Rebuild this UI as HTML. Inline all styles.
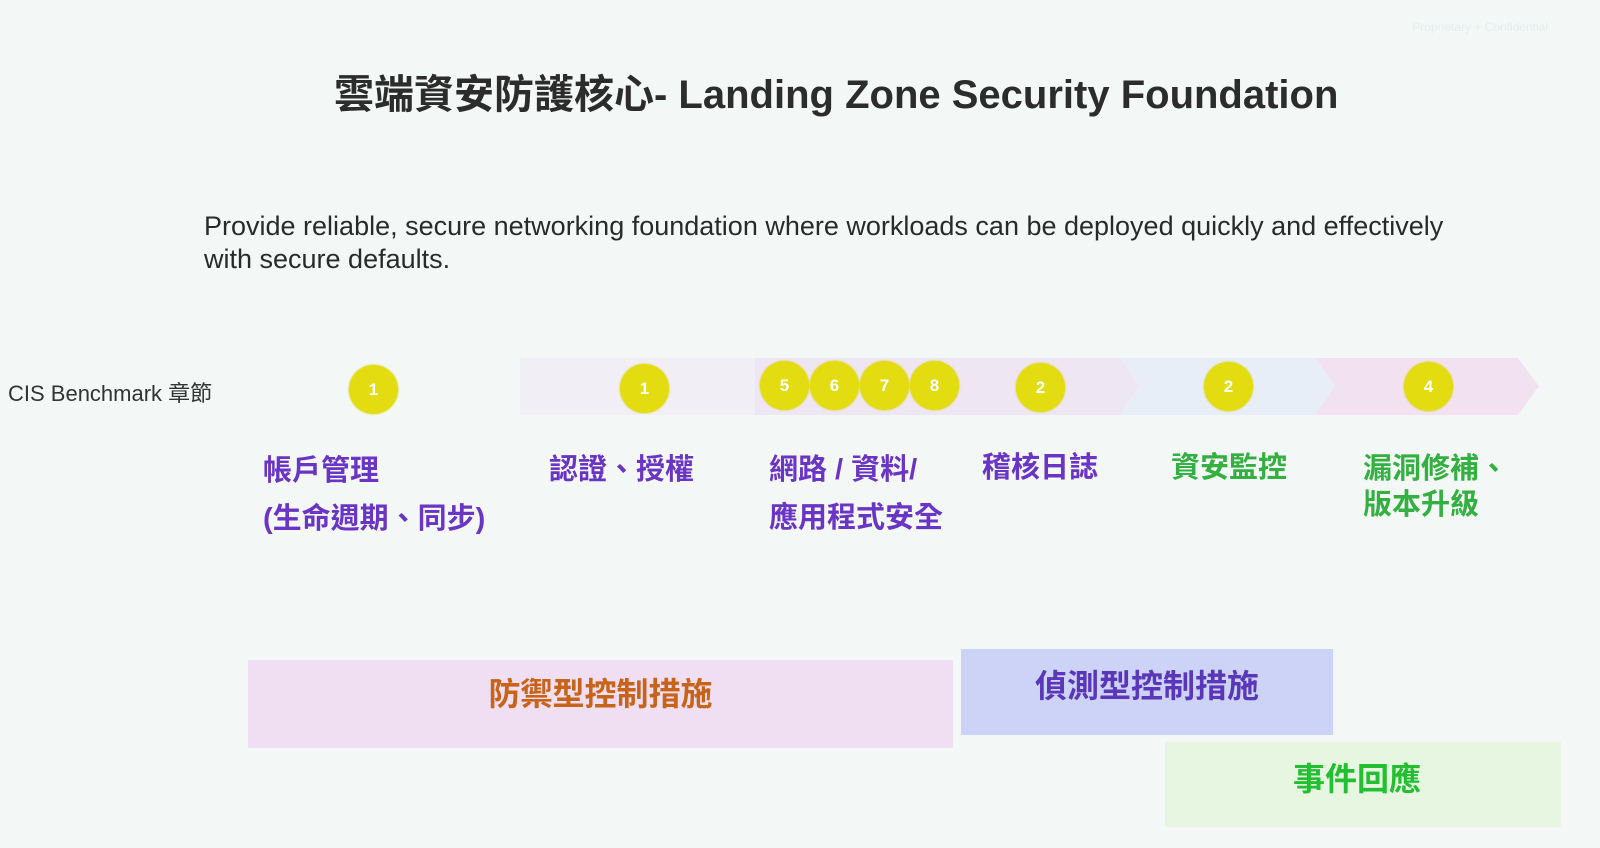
<!DOCTYPE html>
<html><head><meta charset="utf-8"><style>
body{margin:0;width:1600px;height:848px;overflow:hidden;background:#f3f8f7;position:relative;font-family:"Liberation Sans","Noto Sans CJK TC",sans-serif}
.a{position:absolute;white-space:nowrap}
.c{position:absolute;width:49px;height:49px;border-radius:50%;background:#e2dc10;color:#fff;font-size:17px;font-weight:bold;display:flex;align-items:center;justify-content:center;box-shadow:0 0 2px #d8d000}
.l{position:absolute;font-size:29px;font-weight:bold;line-height:48px;white-space:nowrap}
.p{color:#6a34c4}.g{color:#33b040}
.b{position:absolute;display:flex;align-items:center;justify-content:center;font-size:32px;font-weight:bold;box-sizing:border-box}
</style></head><body>
<div class="a" style="right:52px;top:20px;font-size:12px;color:#e4ecec">Proprietary + Confidential</div>
<div class="a" style="left:334px;top:62px;font-size:40px;font-weight:bold;color:#2c2c2c">雲端資安防護核心- Landing Zone Security Foundation</div>
<div class="a" style="left:204px;top:210px;font-size:27px;color:#2a2a2a;line-height:33px">Provide reliable, secure networking foundation where workloads can be deployed quickly and effectively<br>with secure defaults.</div>
<div class="a" style="left:8px;top:376px;font-size:22px;color:#333">CIS Benchmark 章節</div>
<svg class="a" style="left:0;top:0" width="1600" height="848">
<polygon points="520,358 755,358 755,415 520,415" fill="#f2eef5"/>
<polygon points="755,358 1120,358 1140,386 1120,415 755,415" fill="#efe6f3"/>
<polygon points="1120,358 1315,358 1335,386 1315,415 1120,415 1140,386" fill="#e8eef7"/>
<polygon points="1315,358 1518,358 1539,386 1518,415 1315,415 1335,386" fill="#f2e2f1"/>
</svg>
<div class="c" style="left:349px;top:365px">1</div>
<div class="c" style="left:620px;top:364px">1</div>
<div class="c" style="left:760px;top:361px">5</div>
<div class="c" style="left:810px;top:361px">6</div>
<div class="c" style="left:860px;top:361px">7</div>
<div class="c" style="left:910px;top:361px">8</div>
<div class="c" style="left:1016px;top:363px">2</div>
<div class="c" style="left:1204px;top:362px">2</div>
<div class="c" style="left:1404px;top:362px">4</div>
<div class="l p" style="left:263px;top:447px">帳戶管理<br>(生命週期、同步)</div>
<div class="l p" style="left:549px;top:446px">認證、授權</div>
<div class="l p" style="left:769px;top:446px">網路 / 資料/<br>應用程式安全</div>
<div class="l p" style="left:982px;top:444px">稽核日誌</div>
<div class="l g" style="left:1171px;top:444px">資安監控</div>
<div class="l g" style="left:1363px;top:451px;line-height:36px">漏洞修補、<br>版本升級</div>
<div class="b" style="left:248px;top:660px;width:705px;height:88px;background:#f0def2;color:#c8641a;padding-bottom:24px">防禦型控制措施</div>
<div class="b" style="left:961px;top:649px;width:372px;height:86px;background:#cdd3f6;color:#5a36b8;padding-bottom:16px">偵測型控制措施</div>
<div class="b" style="left:1165px;top:742px;width:396px;height:85px;background:#e6f6e0;color:#22c030;padding-bottom:16px;padding-right:12px">事件回應</div>
</body></html>
